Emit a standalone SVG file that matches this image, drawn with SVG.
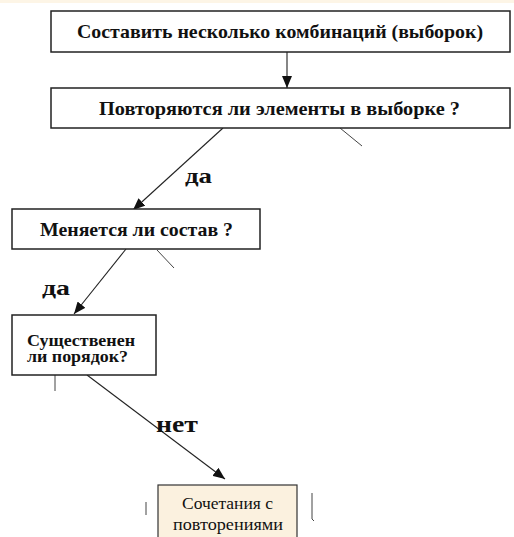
<svg xmlns="http://www.w3.org/2000/svg" width="514" height="537" viewBox="0 0 514 537">
<style>
  .box { fill: #ffffff; stroke: #222222; stroke-width: 1.5; }
  .box5 { fill: #fbf1df; stroke: #333333; stroke-width: 1.2; }
  .t { font-family: "Liberation Serif", "Times New Roman", serif; font-weight: bold; fill: #111111; }
  .tn { font-family: "Liberation Serif", "Times New Roman", serif; fill: #111111; }
  .c { stroke: #222222; stroke-width: 1.1; fill: none; }
  .s { stroke: #444444; stroke-width: 1; fill: none; }
</style>
<defs>
  <marker id="arr" markerUnits="userSpaceOnUse" markerWidth="12" markerHeight="10" refX="12" refY="5" orient="auto">
    <path d="M0,0 L12,5 L0,10 z" fill="#111111"/>
  </marker>
</defs>
<rect x="0" y="0" width="514" height="537" fill="#ffffff"/>
<rect x="0" y="0" width="514" height="3" fill="#fdf5e6"/>

<g id="connectors">
  <line class="c" x1="287" y1="52" x2="287" y2="88" marker-end="url(#arr)"/>
  <line class="c" x1="223" y1="128" x2="133" y2="210" marker-end="url(#arr)"/>
  <line class="c" x1="126" y1="249" x2="74" y2="314" marker-end="url(#arr)"/>
  <line class="c" x1="87" y1="375" x2="225" y2="479" marker-end="url(#arr)"/>
  <line class="s" x1="340" y1="128" x2="362" y2="146"/>
  <line class="s" x1="157" y1="250" x2="174" y2="268"/>
  <line class="s" x1="55" y1="375" x2="55" y2="391"/>
  <line class="s" x1="146" y1="502" x2="146" y2="515"/>
  <path class="s" d="M312,493 L312,519 L314,521"/>
  <text class="t" x="185" y="183" font-size="22" textLength="27" lengthAdjust="spacingAndGlyphs">да</text>
  <text class="t" x="42" y="295" font-size="22" textLength="28" lengthAdjust="spacingAndGlyphs">да</text>
  <text class="t" x="156" y="432" font-size="24" textLength="42" lengthAdjust="spacingAndGlyphs">нет</text>
</g>

<g id="n1">
  <rect class="box" x="51" y="11" width="459" height="41"/>
  <text class="t" x="77" y="38" font-size="19" textLength="406" lengthAdjust="spacingAndGlyphs">Составить несколько комбинаций (выборок)</text>
</g>

<g id="n2">
  <rect class="box" x="51" y="88" width="459" height="40"/>
  <text class="t" x="99" y="115" font-size="19" textLength="361" lengthAdjust="spacingAndGlyphs">Повторяются ли элементы в выборке ?</text>
</g>

<g id="n3">
  <rect class="box" x="12" y="209" width="248" height="40"/>
  <text class="t" x="40" y="236" font-size="19" textLength="193" lengthAdjust="spacingAndGlyphs">Меняется ли состав ?</text>
</g>

<g id="n4">
  <rect class="box" x="12" y="315" width="144" height="60"/>
  <text class="t" x="27" y="346" font-size="16" textLength="108" lengthAdjust="spacingAndGlyphs">Существенен</text>
  <text class="t" x="27" y="362" font-size="16" textLength="101" lengthAdjust="spacingAndGlyphs">ли порядок?</text>
</g>

<g id="n5">
  <rect class="box5" x="158" y="485" width="139" height="60"/>
  <text class="tn" x="182" y="509" font-size="17" textLength="91" lengthAdjust="spacingAndGlyphs">Сочетания с</text>
  <text class="tn" x="173" y="530" font-size="17" textLength="110" lengthAdjust="spacingAndGlyphs">повторениями</text>
</g>
</svg>
